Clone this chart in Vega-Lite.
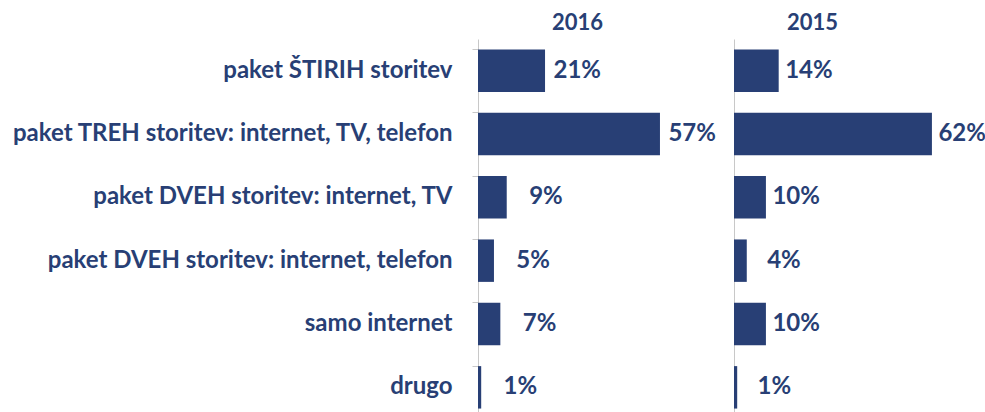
{
  "$schema": "https://vega.github.io/schema/vega-lite/v6.json",
  "padding": {"left": 10, "top": 12, "right": 0, "bottom": 0},
  "background": "white",
  "config": {
    "view": {"stroke": null},
    "font": "Lato",
    "title": {"font": "Lato", "fontSize": 22, "fontWeight": "bold", "color": "#283F75", "anchor": "start", "frame": "group", "offset": 4}
  },
  "datasets": {
    "d": [
      {"kategorija": "paket ŠTIRIH storitev", "leto": "2016", "delez": 0.21},
      {"kategorija": "paket TREH storitev: internet, TV, telefon", "leto": "2016", "delez": 0.57},
      {"kategorija": "paket DVEH storitev: internet, TV", "leto": "2016", "delez": 0.09},
      {"kategorija": "paket DVEH storitev: internet, telefon", "leto": "2016", "delez": 0.05},
      {"kategorija": "samo internet", "leto": "2016", "delez": 0.07},
      {"kategorija": "drugo", "leto": "2016", "delez": 0.01},
      {"kategorija": "paket ŠTIRIH storitev", "leto": "2015", "delez": 0.14},
      {"kategorija": "paket TREH storitev: internet, TV, telefon", "leto": "2015", "delez": 0.62},
      {"kategorija": "paket DVEH storitev: internet, TV", "leto": "2015", "delez": 0.10},
      {"kategorija": "paket DVEH storitev: internet, telefon", "leto": "2015", "delez": 0.04},
      {"kategorija": "samo internet", "leto": "2015", "delez": 0.10},
      {"kategorija": "drugo", "leto": "2015", "delez": 0.01}
    ]
  },
  "spacing": 7,
  "hconcat": [
    {
      "data": {"name": "d"},
      "transform": [{"filter": "datum.leto === '2016'"}],
      "title": {"text": "2016", "dx": 74},
      "width": 249,
      "height": 380,
      "encoding": {
        "y": {
          "field": "kategorija", "type": "nominal", "sort": null,
          "scale": {"paddingInner": 0.33, "paddingOuter": 0.165},
          "axis": {
            "title": null, "bandPosition": 0, "domainColor": "#C8C8C8", "tickColor": "#C8C8C8",
            "tickSize": 6, "labelPadding": 20, "labelFont": "Lato", "labelFontSize": 24,
            "labelFontWeight": "bold", "labelColor": "#283F75", "labelLimit": 600
          }
        },
        "x": {"field": "delez", "type": "quantitative", "scale": {"domain": [0, 0.78]}, "axis": null}
      },
      "layer": [
        {"mark": {"type": "bar", "color": "#283F75"}},
        {"mark": {"type": "text", "align": "right", "dx": 56, "font": "Lato", "fontSize": 24, "fontWeight": "bold", "color": "#283F75"},
         "encoding": {"text": {"field": "delez", "type": "quantitative", "format": ".0%"}}}
      ]
    },
    {
      "data": {"name": "d"},
      "transform": [{"filter": "datum.leto === '2015'"}],
      "title": {"text": "2015", "dx": 53},
      "width": 249,
      "height": 380,
      "encoding": {
        "y": {
          "field": "kategorija", "type": "nominal", "sort": null,
          "scale": {"paddingInner": 0.33, "paddingOuter": 0.165},
          "axis": {"title": null, "labels": false, "ticks": false, "domainColor": "#C8C8C8"}
        },
        "x": {"field": "delez", "type": "quantitative", "scale": {"domain": [0, 0.78]}, "axis": null}
      },
      "layer": [
        {"mark": {"type": "bar", "color": "#283F75"}},
        {"mark": {"type": "text", "align": "right", "dx": 54, "font": "Lato", "fontSize": 24, "fontWeight": "bold", "color": "#283F75"},
         "encoding": {"text": {"field": "delez", "type": "quantitative", "format": ".0%"}}}
      ]
    }
  ]
}
